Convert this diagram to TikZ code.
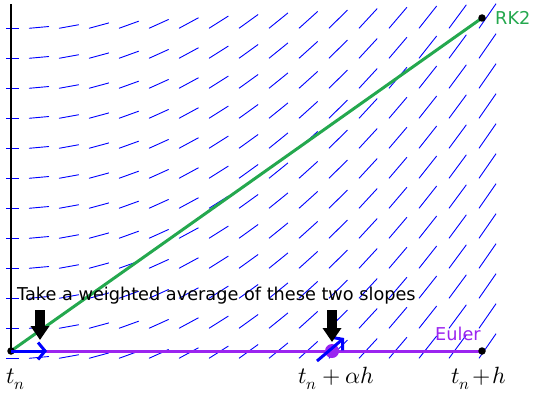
\documentclass[tikz,border=0pt]{standalone}
\usepackage{fontspec}
\usepackage{unicode-math}
\setmainfont{DejaVu Sans}
\setmathfont{Latin Modern Math}
\usetikzlibrary{arrows.meta}

\definecolor{rkgreen}{RGB}{36,168,78}
\definecolor{eulerpurple}{RGB}{155,36,240}

\begin{document}
\begin{tikzpicture}[x=1pt,y=1pt,
  field/.style={blue,line width=0.9pt},
  dot/.style={circle,fill=black,inner sep=0pt,minimum size=7.5pt},
  slopevec/.style={blue,line width=3pt,-{Straight Barb[length=7pt,width=17pt]}},
  hint/.style={line width=10pt,-{Triangle[length=14pt,width=18pt]}},
  lbl/.style={inner sep=0pt,anchor=base west,font=\fontsize{17.7}{20}\selectfont},
  tlbl/.style={inner sep=0pt,anchor=base west,font=\fontsize{23.5}{28}\selectfont}]
  \useasboundingbox (0,0) rectangle (535,392);
  % slope field (slope grows with t)
  \begin{scope}
    \clip (6,0) rectangle (535,392);
    \foreach \i in {0,...,16}{
      \pgfmathsetmacro\xo{-1+30*\i}
      \pgfmathsetmacro\s{0.003*(\xo+1)}
      \pgfmathsetmacro\m{\s/2.37}
      \pgfmathsetmacro\dx{20/sqrt(1+\m*\m)}
      \pgfmathsetmacro\dy{\s*\dx}
      \foreach \j in {0,...,11}{
        \pgfmathsetmacro\yo{363.7-30*\j}
        \draw[field] (\xo,\yo) -- (\xo+\dx,\yo+\dy);
      }
    }
  \end{scope}
  \coordinate (tn) at (11,41);
  \coordinate (tnh) at (482,41);
  \coordinate (rk) at (482,374);
  \coordinate (top) at (11,388);
  \draw[line width=1.8pt] (tn) -- (top);
  \draw[eulerpurple,line width=3pt] (tn) -- (tnh);
  \draw[rkgreen,line width=3pt] (tn) -- (rk);
  \node[dot] (tndot) at (tn) {};
  \node[dot] (tnhdot) at (tnh) {};
  \node[dot] (rkdot) at (rk) {};
  % the two slopes
  \node[circle,fill=eulerpurple,inner sep=0pt,minimum size=14pt] (mid) at (332,41) {};
  \coordinate (k1) at (47,41);
  \coordinate (k2a) at (317,31);
  \coordinate (k2b) at (344,54);
  \draw[slopevec] (tn) -- (k1);
  \draw[slopevec] (k2a) -- (k2b);
  \coordinate (h1a) at (40,82);
  \coordinate (h1b) at (40,52);
  \coordinate (h2a) at (332,82);
  \coordinate (h2b) at (332,50);
  \draw[hint] (h1a) -- (h1b);
  \draw[hint] (h2a) -- (h2b);
  % labels
  \node[lbl] (note) at (17,92) {Take a weighted average of these two slopes};
  \node[lbl,text=rkgreen] (rklbl) at (495,367) {RK2};
  \node[lbl,text=eulerpurple] (eulbl) at (435,52) {Euler};
  \node[tlbl] (t0) at (6,8.5) {$t_n$};
  \node[tlbl] (t1) at (298,8.5) {$t_n+\alpha h$};
  \node[tlbl] (t2) at (451,8.5) {\medmuskip=1.5mu $t_n+h$};
\end{tikzpicture}
\end{document}
